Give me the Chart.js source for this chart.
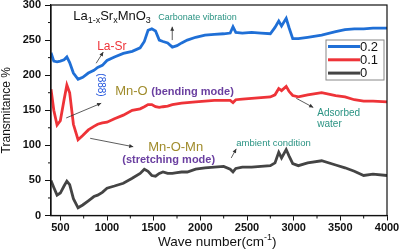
<!DOCTYPE html>
<html lang="en">
<head>
<meta charset="UTF-8" />
<title>FTIR La1-xSrxMnO3</title>
<script src="https://cdn.jsdelivr.net/npm/chart.js"></script>
<style>
    body { margin: 0; background: #fff; }
    #wrap { width: 400px; height: 252px; }
</style>
</head>
<body>
<div id="wrap"><canvas id="ftir" width="400" height="252"></canvas></div>
<script>
// wave numbers (cm-1) shared by all three spectra
const waveNumbers = [400, 430, 465, 500, 540, 570, 600, 640, 690, 740, 800, 860, 900, 950, 1000, 1080, 1175, 1270, 1355, 1400,
    1440, 1480, 1520, 1560, 1600, 1650, 1700, 1750, 1800, 1860, 1950, 2050, 2150, 2250, 2320, 2350, 2380, 2450, 2550, 2650,
    2750, 2800, 2840, 2870, 2920, 2950, 2990, 3050, 3150, 3300, 3450, 3550, 3650, 3750, 3850, 4000];

// transmittance %, x = 0.2
const trans02 = [232, 220, 219, 220, 222, 226, 218, 203, 194, 197, 203, 207, 211, 214, 221, 226, 231, 234, 239, 248,
    264, 266, 263, 250, 248, 246, 240, 242, 246, 250, 254, 257, 258, 259, 260, 269, 261, 260, 261, 260,
    259, 268, 277, 270, 281, 268, 252, 252, 254, 257, 262, 265, 266, 266, 267, 267];

// x = 0.1
const trans01 = [180, 150, 129, 135, 165, 186, 175, 130, 108, 114, 122, 127, 130, 132, 133, 138, 143, 150, 152, 155,
    158, 158, 155, 154, 155, 156, 158, 159, 160, 161, 162, 163, 164, 164, 164, 161, 165, 166, 167, 168,
    169, 172, 181, 178, 184, 177, 171, 169, 172, 175, 171, 169, 165, 163, 163, 162];

// x = 0
const trans00 = [50, 40, 29, 32, 42, 49, 44, 24, 11, 15, 21, 27, 29, 33, 39, 42, 46, 53, 60, 66,
    63, 57, 56, 60, 62, 60, 60, 61, 62, 62, 66, 68, 69, 70, 66, 62, 67, 69, 69, 70,
    71, 75, 90, 82, 94, 85, 74, 71, 75, 78, 72, 68, 63, 57, 59, 57];

const seriesLabels = ['0.2', '0.1', '0'];
const seriesColors = ['#1f6fd6', '#ee3338', '#444444'];

const xTickValues = [500, 1000, 1500, 2000, 2500, 3000, 3500, 4000];
const xMinorTicks = [750, 1250, 1750, 2250, 2750, 3250, 3750];
const yTickValues = [0, 50, 100, 150, 200, 250, 300];
const yMinorTicks = [25, 75, 125, 175, 225, 275];

function toPoints(ys) {
    return waveNumbers.map((w, i) => ({ x: w, y: ys[i] }));
}

const FONT = '"Liberation Sans", Arial, sans-serif';

function arrow(ctx, x1, y1, x2, y2) {
    const ang = Math.atan2(y2 - y1, x2 - x1);
    ctx.save();
    ctx.strokeStyle = '#333';
    ctx.fillStyle = '#333';
    ctx.lineWidth = 0.8;
    ctx.beginPath();
    ctx.moveTo(x1, y1);
    ctx.lineTo(x2, y2);
    ctx.stroke();
    ctx.beginPath();
    ctx.moveTo(x2, y2);
    ctx.lineTo(x2 - 4.5 * Math.cos(ang - 0.45), y2 - 4.5 * Math.sin(ang - 0.45));
    ctx.lineTo(x2 - 4.5 * Math.cos(ang + 0.45), y2 - 4.5 * Math.sin(ang + 0.45));
    ctx.closePath();
    ctx.fill();
    ctx.restore();
}

// draws a run of [text, font, color, dy] pieces left to right
function textRun(ctx, x, y, parts) {
    parts.forEach(p => {
        ctx.font = p[1];
        ctx.fillStyle = p[2];
        ctx.fillText(p[0], x, y + (p[3] || 0));
        x += ctx.measureText(p[0]).width;
    });
}

const decorPlugin = {
    id: 'decor',
    afterDraw(chart) {
        const ctx = chart.ctx;
        const area = chart.chartArea;
        const xs = chart.scales.x, ys = chart.scales.y;
        const P = (w, t) => [xs.getPixelForValue(w), ys.getPixelForValue(t)];

        ctx.save();
        // frame
        ctx.strokeStyle = '#111';
        ctx.lineWidth = 1.2;
        ctx.strokeRect(area.left, area.top, area.right - area.left, area.bottom - area.top);

        // minor ticks
        ctx.lineWidth = 1;
        ctx.beginPath();
        xMinorTicks.forEach(v => {
            const px = xs.getPixelForValue(v);
            ctx.moveTo(px, area.bottom);
            ctx.lineTo(px, area.bottom + 3);
        });
        yMinorTicks.forEach(v => {
            const py = ys.getPixelForValue(v);
            ctx.moveTo(area.left, py);
            ctx.lineTo(area.left - 3, py);
        });
        ctx.stroke();

        // axis titles
        ctx.fillStyle = '#111';
        ctx.textBaseline = 'alphabetic';
        ctx.save();
        ctx.translate(10, (area.top + area.bottom) / 2);
        ctx.rotate(-Math.PI / 2);
        ctx.font = '12px ' + FONT;
        ctx.textAlign = 'center';
        ctx.fillText('Transmitance %', 0, 0);
        ctx.restore();

        ctx.textAlign = 'left';
        textRun(ctx, 158, 246, [
            ['Wave number(cm', '13.5px ' + FONT, '#111'],
            ['-1', '9px ' + FONT, '#111', -6],
            [')', '13.5px ' + FONT, '#111']
        ]);

        // legend
        const bx = area.right - 61, by = area.top + 35;
        ctx.strokeStyle = '#888';
        ctx.lineWidth = 1;
        ctx.strokeRect(bx, by, 58, 40);
        ctx.textBaseline = 'middle';
        chart.data.datasets.forEach((ds, i) => {
            const ly = by + 6.5 + i * 13.3;
            ctx.strokeStyle = ds.borderColor;
            ctx.lineWidth = 3;
            ctx.beginPath();
            ctx.moveTo(bx + 2, ly);
            ctx.lineTo(bx + 34, ly);
            ctx.stroke();
            ctx.fillStyle = '#111';
            ctx.font = '13px ' + FONT;
            ctx.fillText(ds.label, bx + 34, ly + 0.5);
        });
        ctx.textBaseline = 'alphabetic';

        // annotations
        const teal = '#2a9383', olive = '#a08c2c', purple = '#6a3fa0';
        let p = P(638, 278.6);
        textRun(ctx, p[0], p[1], [
            ['La', '13px ' + FONT, '#111'],
            ['1-x', '9px ' + FONT, '#111', 3],
            ['Sr', '13px ' + FONT, '#111'],
            ['x', '9px ' + FONT, '#111', 3],
            ['MnO', '13px ' + FONT, '#111'],
            ['3', '9px ' + FONT, '#111', 3]
        ]);

        p = P(1549, 278);
        textRun(ctx, p[0], p[1], [['Carbonate vibration', '9px ' + FONT, teal]]);
        arrow(ctx, ...P(1699, 250), ...P(1699, 269));

        p = P(895, 236);
        textRun(ctx, p[0], p[1], [['La-Sr', '12px ' + FONT, '#ee3338']]);
        arrow(ctx, ...P(884, 217), ...P(960, 233));

        p = P(938, 186);
        ctx.save();
        ctx.translate(p[0], p[1]);
        ctx.rotate(Math.PI / 2);
        ctx.font = '10px ' + FONT;
        ctx.fillStyle = '#2255dd';
        ctx.textAlign = 'center';
        ctx.textBaseline = 'middle';
        ctx.fillText('(888)', 0, 0);
        ctx.restore();

        p = P(1088, 172);
        textRun(ctx, p[0], p[1], [
            ['Mn-O ', '13px ' + FONT, olive],
            ['(bending mode)', 'bold 11px ' + FONT, purple]
        ]);
        arrow(ctx, ...P(563, 139), ...P(938, 160));

        p = P(1442, 92);
        textRun(ctx, p[0], p[1], [['Mn-O-Mn', '13px ' + FONT, olive]]);
        p = P(1163, 75);
        textRun(ctx, p[0], p[1], [['(stretching mode)', 'bold 11px ' + FONT, purple]]);
        arrow(ctx, ...P(820, 110), ...P(1281, 98));

        p = P(2385, 99);
        textRun(ctx, p[0], p[1], [['ambient condition', '9.5px ' + FONT, teal]]);
        arrow(ctx, ...P(2331, 82), ...P(2385, 95));

        p = P(3253, 142);
        textRun(ctx, p[0], p[1], [['Adsorbed', '10px ' + FONT, teal]]);
        p = P(3253, 126);
        textRun(ctx, p[0], p[1], [['water', '10px ' + FONT, teal]]);
        arrow(ctx, ...P(3028, 167), ...P(3210, 154));

        ctx.restore();
    }
};

const tickFont = { family: FONT, size: 11, weight: 'bold' };

new Chart(document.getElementById('ftir'), {
    type: 'line',
    data: {
        datasets: [trans02, trans01, trans00].map((ys, i) => ({
            label: seriesLabels[i],
            data: toPoints(ys),
            borderColor: seriesColors[i],
            borderWidth: 2.8,
            pointRadius: 0,
            tension: 0,
            fill: false
        }))
    },
    options: {
        responsive: false,
        devicePixelRatio: 1,
        animation: false,
        layout: { padding: { top: 5, right: 13, left: 0, bottom: 0 } },
        plugins: { legend: { display: false }, tooltip: { enabled: false } },
        scales: {
            x: {
                type: 'linear',
                min: 400,
                max: 4000,
                afterBuildTicks: s => { s.ticks = xTickValues.map(v => ({ value: v })); },
                afterFit: s => { s.height = 36.5; s.paddingLeft = 0; s.paddingRight = 0; },
                grid: { drawOnChartArea: false, drawTicks: true, tickLength: 5, color: '#111' },
                border: { display: true, color: '#111', width: 1.2 },
                ticks: { color: '#111', font: tickFont, padding: 1, maxRotation: 0, autoSkip: false, callback: v => String(v) }
            },
            y: {
                min: 0,
                max: 300,
                afterBuildTicks: s => { s.ticks = yTickValues.map(v => ({ value: v })); },
                afterFit: s => { s.width = 51; s.paddingTop = 0; s.paddingBottom = 0; },
                grid: { drawOnChartArea: false, drawTicks: true, tickLength: 6, color: '#111' },
                border: { display: true, color: '#111', width: 1.2 },
                ticks: { color: '#111', font: tickFont, padding: 4 }
            }
        }
    },
    plugins: [decorPlugin]
});
</script>
</body>
</html>
